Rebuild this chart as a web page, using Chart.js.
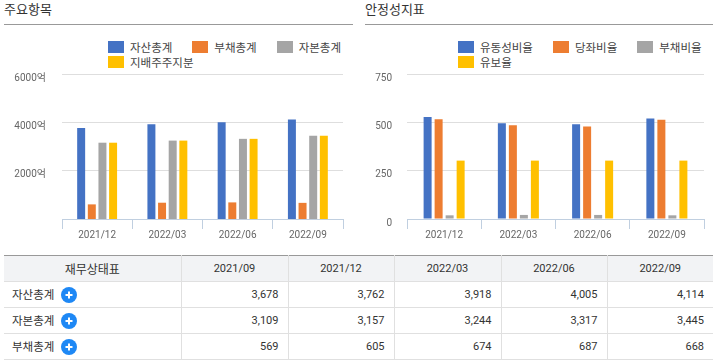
<!DOCTYPE html>
<html lang="ko">
<head>
<meta charset="utf-8">
<title>재무상태표</title>
<script src="https://cdn.jsdelivr.net/npm/chart.js@4"></script>
<style>
    html, body { margin: 0; padding: 0; background: #fff; }
    body { width: 713px; height: 363px; position: relative; overflow: hidden; font-family: "Noto Sans CJK KR", "Noto Sans", sans-serif; color: #333; }
    .title { position: absolute; top: 0; height: 24px; line-height: 18px; font-size: 13px; border-bottom: 1px solid #999; }
    .chart-box { position: absolute; top: 60px; height: 185px; }
    .legend { position: absolute; top: 41px; display: flex; flex-wrap: wrap; column-gap: 20px; row-gap: 3px; font-size: 11.5px; line-height: 12px; color: #444; }
    .legend span { display: flex; }
    .legend i { display: block; width: 16px; height: 12px; margin-right: 6px; }
    table { position: absolute; left: 4px; top: 255px; width: 709px; border-collapse: collapse; table-layout: fixed; font-family: Roboto, "Noto Sans CJK KR", sans-serif; font-size: 11px; border-top: 1px solid #999; }
    th { background: #f2f3f5; font-weight: normal; height: 25px; padding: 0; border-bottom: 1px solid #e0e0e0; border-right: 1px solid #e0e0e0; }
    th.head { font-family: "Noto Sans CJK KR", sans-serif; font-size: 12px; }
    td { height: 25px; padding: 0 9px 0 0; text-align: right; border-bottom: 1px solid #e0e0e0; border-right: 1px solid #e0e0e0; }
    th:last-child, td:last-child { border-right: none; }
    td.name { text-align: left; padding-left: 8px; font-family: "Noto Sans CJK KR", sans-serif; font-size: 11.5px; }
    td.name svg { vertical-align: -4px; margin-left: 7px; }
</style>
</head>
<body>
<div class="title" style="left:4px;width:349px">주요항목</div>
<div class="title" style="left:365px;width:348px">안정성지표</div>

<div class="legend" id="legend-main" style="left:108px;width:240px"></div>
<div class="legend" id="legend-stability" style="left:458px;width:250px"></div>

<div class="chart-box" style="left:0;width:350px"><canvas id="mainChart"></canvas></div>
<div class="chart-box" style="left:350px;width:363px"><canvas id="stabilityChart"></canvas></div>

<table id="finance-table"></table>

<script>
// Chart data
const quarters = ["2021/12", "2022/03", "2022/06", "2022/09"];
const colors = ["#4472c4", "#ed7d31", "#a5a5a5", "#ffc000"];

const mainLabels = ["자산총계", "부채총계", "자본총계", "지배주주지분"];
const assets = [3762, 3918, 4005, 4114];
const liabilities = [605, 674, 687, 668];
const equity = [3157, 3244, 3317, 3445];
const controlling = [3157, 3244, 3317, 3445];
const mainTicks = [2000, 4000, 6000];

const stabilityLabels = ["유동성비율", "당좌비율", "부채비율", "유보율"];
const currentRatio = [527, 495, 490, 520];
const quickRatio = [516, 485, 479, 513];
const debtRatio = [19, 21, 21, 19];
const reserveRatio = [302, 302, 302, 302];
const stabilityTicks = [0, 250, 500, 750];

// Table data
const tableTitle = "재무상태표";
const tableColumns = ["2021/09", "2021/12", "2022/03", "2022/06", "2022/09"];
const tableNames = ["자산총계", "자본총계", "부채총계"];
const assetsRow = ["3,678", "3,762", "3,918", "4,005", "4,114"];
const equityRow = ["3,109", "3,157", "3,244", "3,317", "3,445"];
const liabilitiesRow = ["569", "605", "674", "687", "668"];

const plusIcon = '<svg width="16" height="16" viewBox="0 0 16 16"><circle cx="8" cy="8" r="8" fill="#1e88f5"/><path d="M4.5 8h7M8 4.5v7" stroke="#fff" stroke-width="2"/></svg>';
const tickFont = { size: 10, family: 'Roboto, "Noto Sans CJK KR"' };

function buildLegend(id, labels) {
    const legend = document.getElementById(id);
    labels.forEach((label, i) => {
        const item = document.createElement("span");
        item.innerHTML = `<i style="background:${colors[i]}"></i>${label}`;
        legend.appendChild(item);
    });
}

function buildChart(id, labels, series, ticks, options) {
    return new Chart(document.getElementById(id), {
        type: "bar",
        data: {
            labels: quarters,
            datasets: series.map((values, i) => ({
                label: labels[i],
                data: values,
                backgroundColor: colors[i],
                categoryPercentage: options.categoryPercentage,
                barPercentage: options.barPercentage
            }))
        },
        options: {
            responsive: true,
            maintainAspectRatio: false,
            animation: false,
            layout: { padding: { top: 0, right: options.right, left: 0, bottom: 0 } },
            plugins: { legend: { display: false }, tooltip: { enabled: false } },
            scales: {
                x: {
                    offset: true,
                    border: { color: "#c0cfe0" },
                    grid: { color: "#c0cfe0", drawOnChartArea: false, offset: true, tickLength: 10 },
                    ticks: { color: "#666", padding: 0, font: tickFont },
                    afterFit: scale => { scale.height = 26; }
                },
                y: {
                    min: 0,
                    max: ticks[ticks.length - 1],
                    border: { display: false },
                    grid: { color: "#dedede", lineWidth: 1, tickLength: 0 },
                    afterBuildTicks: scale => { scale.ticks = ticks.map(value => ({ value })); },
                    ticks: {
                        color: "#666",
                        padding: options.tickPadding,
                        labelOffset: 4,
                        font: tickFont,
                        callback: value => value + options.unit
                    },
                    // tick padding would otherwise push the plot top down
                    afterFit: scale => {
                        scale.width = options.axisWidth;
                        scale.paddingTop = 14;
                        scale.paddingBottom = 0;
                    }
                }
            }
        }
    });
}

function buildTable() {
    const rows = [assetsRow, equityRow, liabilitiesRow];
    const widths = [177, 107, 106, 107, 106, 106];
    let html = "<colgroup>" + widths.map(w => `<col style="width:${w}px">`).join("") + "</colgroup>";
    html += `<tr><th class="head">${tableTitle}</th>` + tableColumns.map(c => `<th>${c}</th>`).join("") + "</tr>";
    rows.forEach((row, i) => {
        html += `<tr><td class="name">${tableNames[i]}${plusIcon}</td>` + row.map(v => `<td>${v}</td>`).join("") + "</tr>";
    });
    document.getElementById("finance-table").innerHTML = html;
}

buildLegend("legend-main", mainLabels);
buildLegend("legend-stability", stabilityLabels);

buildChart("mainChart", mainLabels, [assets, liabilities, equity, controlling], mainTicks, {
    unit: "억", right: 7, axisWidth: 62, tickPadding: 16, categoryPercentage: 0.606, barPercentage: 0.75
});
buildChart("stabilityChart", stabilityLabels, [currentRatio, quickRatio, debtRatio, reserveRatio], stabilityTicks, {
    unit: "", right: 9, axisWidth: 57, tickPadding: 15, categoryPercentage: 0.593, barPercentage: 0.727
});

buildTable();
</script>
</body>
</html>
